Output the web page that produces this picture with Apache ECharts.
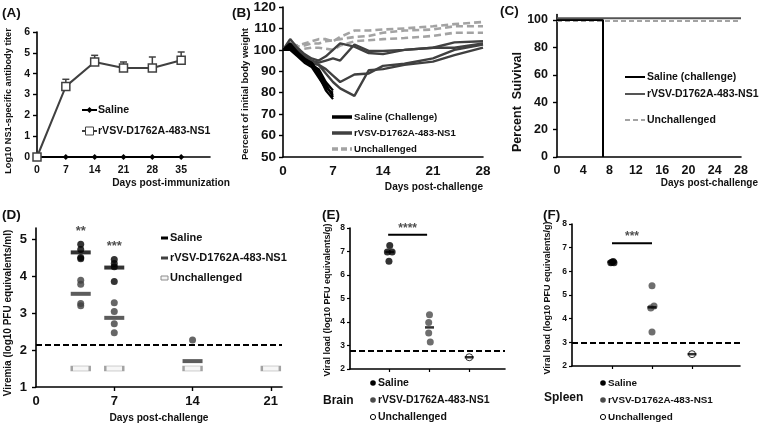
<!DOCTYPE html>
<html><head><meta charset="utf-8">
<script src="https://cdn.jsdelivr.net/npm/echarts@6/dist/echarts.min.js"></script>
<style>html,body{margin:0;padding:0;background:#fff}#c{width:760px;height:425px}</style>
</head><body><div id="c"></div>
<script>
// ---------- Panel A: antibody titer ----------
const aDays = [0, 7, 14, 21, 28, 35];
const aSaline = [0, 0, 0, 0, 0, 0];
const aVaccine = [0, 3.39, 4.56, 4.27, 4.27, 4.64];
const aVaccineUpper = [0, 3.73, 4.88, 4.56, 4.8, 5.04];
const aXLabels = [0, 7, 14, 21, 28, 35];

// ---------- Panel B: body weight ----------
const bSalineDays = [0, 1, 2, 3, 4, 5, 6, 7];
const bSaline1 = [100, 101, 98, 95, 93, 88, 81, 77];
const bSaline2 = [100, 102, 99, 96, 94, 90, 83, 79];
const bSaline3 = [100, 100, 97, 94, 92, 87, 82, 80];
const bSaline4 = [100, 103, 99, 95, 93, 91, 85, 81];
const bSaline5 = [100, 101, 98, 95, 94, 89, 84, 78];
const bDays = [0, 1, 2, 3, 4, 5, 6, 7, 8, 10, 12, 14, 17, 21, 24, 28];
const bVaccine1 = [100, 105, 101, 98, 96, 95, 97, 100, 103, 101.5, 98.5, 98, 100, 101, 103.5, 104];
const bVaccine2 = [100, 103, 100, 97, 95, 94, 95, 96, 95, 102.5, 99.5, 99.5, 100, 101, 101, 103];
const bVaccine3 = [100, 102, 99, 96, 94, 93, 91, 88, 85, 88.5, 89, 92.5, 93.5, 96, 100, 102.5];
const bVaccine4 = [100, 101, 98, 95, 94, 93, 89, 85, 82, 78.5, 90.5, 91, 93, 94.5, 97.5, 101];
const bUnch1 = [100, 103, 102, 103, 104, 105, 105, 104, 106, 109, 109, 109.5, 110, 111, 112, 113];
const bUnch2 = [100, 102, 101.5, 102, 103, 103, 104, 104.5, 105, 106, 106.5, 108, 109, 109.5, 111, 111];
const bUnch3 = [100, 101, 100, 100.5, 101, 101, 100.5, 100, 102, 104, 104.5, 105, 105.5, 106.5, 108, 108];

// ---------- Panel C: survival ----------
const cSalineDays = [0, 7, 7];
const cSaline = [100, 100, 0];
const cVaccineDays = [0, 28];
const cVaccine = [101.2, 101.2];
const cUnchDays = [0, 28];
const cUnch = [99.2, 99.2];
const cYLabels = [0, 20, 40, 60, 80, 100];

// ---------- Panel D: viremia ----------
const dSalineDots = [[4, 4.86], [4, 4.72], [4, 4.5], [4, 4.47], [7, 4.45], [7, 4.34], [7, 4.25], [7, 3.85]];
const dSalineMean = [[4, 4.64], [7, 4.23]];
const dVaccineDots = [[4, 3.89], [4, 3.78], [4, 3.26], [4, 3.2], [7, 3.28], [7, 3.04], [7, 2.71], [7, 2.47], [14, 2.27]];
const dVaccineMean = [[4, 3.52], [7, 2.87], [14, 1.70]];
const dUnch = [[4, 1.5], [7, 1.5], [14, 1.5], [21, 1.5]];
const dLimit = 2.14;
const dStars = [[4, 5.2, '**'], [7, 4.79, '***']];
const dXLabels = [0, 7, 14, 21];
const dYLabels = [1, 2, 3, 4, 5];

// ---------- Panel E: brain ----------
const eSaline = [[1, 7.26], [0.94, 6.98], [1.06, 6.98], [0.98, 6.58]];
const eVaccine = [[2, 4.31], [1.98, 3.98], [1.98, 3.53], [2.02, 3.15]];
const eUnch = [[3, 2.5]];
const eMeans = [[1, 6.98], [2, 3.77], [3, 2.5]];
const eLimit = 2.79;
const eSigX = [0.96, 1.94];
const eSigY = 7.71;
const eSigText = '****';

// ---------- Panel F: spleen ----------
const fSaline = [[0.97, 6.36], [1.03, 6.42], [1, 6.38], [1.05, 6.36]];
const fVaccine = [[2, 5.39], [2.05, 4.53], [1.97, 4.45], [2, 3.44]];
const fUnch = [[3, 2.5]];
const fMeans = [[1, 6.4], [2, 4.48], [3, 2.5]];
const fLimit = 3.0;
const fSigX = [1, 2];
const fSigY = 7.19;
const fSigText = '***';

// ================= drawing =================
const FONT = '"Liberation Sans", Arial, sans-serif';
const BLACK = '#000', DARK = '#404040', LIGHT = '#a3a3a3';
const zip = (xs, ys) => xs.map((x, i) => [x, ys[i]]);

function xAx(gi, min, max, o) {
  return Object.assign({
    type: 'value', gridIndex: gi, min: min, max: max,
    axisLine: { show: true, onZero: false, lineStyle: { color: BLACK, width: 1.6 } },
    splitLine: { show: false },
    axisTick: { show: false }
  }, o);
}
function yAx(gi, min, max, o) {
  return Object.assign({
    type: 'value', gridIndex: gi, min: min, max: max,
    axisLine: { show: true, onZero: false, lineStyle: { color: BLACK, width: 1.6 } },
    splitLine: { show: false },
    axisTick: { show: true, length: 4, lineStyle: { color: BLACK, width: 1.4 } }
  }, o);
}
const lbl = (size, extra) => Object.assign({ color: '#111', fontFamily: FONT, fontWeight: 'bold', fontSize: size, margin: 7 }, extra || {});

const grids = [
  { left: 37, top: 32, width: 173, height: 125 },
  { left: 283, top: 5, width: 200, height: 152 },
  { left: 557, top: 14.5, width: 184, height: 142.5 },
  { left: 36, top: 228, width: 246, height: 159 },
  { left: 350, top: 228, width: 155, height: 141 },
  { left: 572, top: 224, width: 168, height: 142 }
];

const xAxes = [
  xAx(0, 0, 42, { axisLabel: lbl(10.5, { customValues: aXLabels, margin: 8 }) }),
  xAx(1, 0, 28, { interval: 7, axisLabel: lbl(13.5, { margin: 7 }) }),
  xAx(2, 0, 28, { interval: 4, axisLabel: lbl(12.5, { margin: 7 }) }),
  xAx(3, 0, 22, { axisLabel: lbl(13, { customValues: dXLabels, margin: 8 }),
    axisTick: { show: true, length: 4, customValues: [7, 14, 21], lineStyle: { color: BLACK, width: 1.4 } } }),
  xAx(4, 0, 3.9, { axisLabel: { show: false },
    axisTick: { show: true, length: 3, customValues: [1, 2, 3], lineStyle: { color: BLACK, width: 1.2 } } }),
  xAx(5, 0, 4.2, { axisLabel: { show: false },
    axisTick: { show: true, length: 3, customValues: [1, 2, 3], lineStyle: { color: BLACK, width: 1.2 } } })
];
const yAxes = [
  yAx(0, 0, 6, { interval: 1, axisLabel: lbl(10.5, { margin: 7 }) }),
  yAx(1, 50, 120, { interval: 10, axisLabel: lbl(13.5, { margin: 7 }) }),
  yAx(2, 0, 104, { axisLabel: lbl(12.5, { customValues: cYLabels, margin: 9 }),
    axisTick: { show: true, length: 4, customValues: cYLabels, lineStyle: { color: BLACK, width: 1.4 } } }),
  yAx(3, 1, 5.3, { axisLabel: lbl(13, { customValues: dYLabels, margin: 9 }),
    axisTick: { show: true, length: 4, customValues: dYLabels, lineStyle: { color: BLACK, width: 1.4 } } }),
  yAx(4, 2, 8, { interval: 1, axisLabel: lbl(8.5, { margin: 5 }), axisTick: { show: true, length: 3, lineStyle: { color: BLACK, width: 1.2 } } }),
  yAx(5, 2, 8, { interval: 1, axisLabel: lbl(8.5, { margin: 5 }), axisTick: { show: true, length: 3, lineStyle: { color: BLACK, width: 1.2 } } })
];

const series = [];
const base = { animation: false, silent: true, emphasis: { disabled: true } };
function line(gi, data, color, width, o) {
  series.push(Object.assign({}, base, {
    type: 'line', xAxisIndex: gi, yAxisIndex: gi, data: data, symbol: 'none',
    lineStyle: { color: color, width: width }
  }, o || {}));
}
function scat(gi, data, o) {
  series.push(Object.assign({}, base, { type: 'scatter', xAxisIndex: gi, yAxisIndex: gi, data: data }, o));
}

// Panel A
line(0, zip(aDays, aSaline), BLACK, 2, { symbol: 'diamond', symbolSize: 6, showSymbol: true, itemStyle: { color: BLACK }, z: 3 });
series.push(Object.assign({}, base, {
  type: 'custom', xAxisIndex: 0, yAxisIndex: 0, z: 2,
  data: aDays.map((d, i) => [d, aVaccine[i], aVaccineUpper[i]]).filter(r => r[2] > r[1]),
  encode: { x: 0, y: [1, 2] },
  renderItem: (p, api) => {
    const p0 = api.coord([api.value(0), api.value(1)]);
    const p1 = api.coord([api.value(0), api.value(2)]);
    const st = { stroke: DARK, lineWidth: 1.5 };
    return { type: 'group', children: [
      { type: 'line', shape: { x1: p0[0], y1: p0[1], x2: p1[0], y2: p1[1] }, style: st },
      { type: 'line', shape: { x1: p1[0] - 3.5, y1: p1[1], x2: p1[0] + 3.5, y2: p1[1] }, style: st }
    ] };
  }
}));
line(0, zip(aDays, aVaccine), DARK, 2, { symbol: 'rect', symbolSize: 8, showSymbol: true,
  itemStyle: { color: '#fff', borderColor: DARK, borderWidth: 1.5 }, z: 4 });

// Panel B
[bUnch1, bUnch2, bUnch3].forEach(v => line(1, zip(bDays, v), LIGHT, 2.6, { lineStyle: { color: LIGHT, width: 2.6, type: [7, 4] } }));
[bVaccine1, bVaccine2, bVaccine3, bVaccine4].forEach(v => line(1, zip(bDays, v), DARK, 2.4));
[bSaline1, bSaline2, bSaline3, bSaline4, bSaline5].forEach(v => line(1, zip(bSalineDays, v), BLACK, 2.2));

// Panel C
line(2, zip(cUnchDays, cUnch), LIGHT, 2, { lineStyle: { color: LIGHT, width: 2, type: [5, 3] } });
line(2, zip(cSalineDays, cSaline), BLACK, 2);
line(2, zip(cVaccineDays, cVaccine), '#555', 2);

// Panel D
scat(3, dUnch, { symbol: 'rect', symbolSize: [18, 5], itemStyle: { color: '#f4f4f4', borderColor: '#8c8c8c', borderWidth: 1.3 },
  markLine: { silent: true, symbol: 'none', animation: false, label: { show: false },
    lineStyle: { color: BLACK, width: 2, type: [6, 3] }, data: [{ yAxis: dLimit }] } });
scat(3, dVaccineDots, { symbol: 'circle', symbolSize: 7, itemStyle: { color: DARK } });
scat(3, dSalineDots, { symbol: 'circle', symbolSize: 7, itemStyle: { color: BLACK } });
scat(3, dVaccineMean, { symbol: 'rect', symbolSize: [20, 4], itemStyle: { color: '#333' } });
scat(3, dSalineMean, { symbol: 'rect', symbolSize: [20, 4], itemStyle: { color: BLACK } });
scat(3, dStars, { symbolSize: 0, label: { show: true, position: 'inside', formatter: p => p.data[2],
  color: '#222', fontFamily: FONT, fontWeight: 'bold', fontSize: 13 } });

// Panels E and F
function organ(gi, sal, vac, unch, means, limit, sigX, sigY, sigText) {
  line(gi, sigX.map(x => [x, sigY]), BLACK, 2);
  scat(gi, sal, { symbol: 'circle', symbolSize: 7, itemStyle: { color: BLACK },
    markLine: { silent: true, symbol: 'none', animation: false, label: { show: false },
      lineStyle: { color: BLACK, width: 2, type: [6, 3] }, data: [{ yAxis: limit }] } });
  scat(gi, vac, { symbol: 'circle', symbolSize: 7, itemStyle: { color: '#4a4a4a' } });
  scat(gi, unch, { symbol: 'circle', symbolSize: 7, itemStyle: { color: '#fff', borderColor: BLACK, borderWidth: 1 } });
  scat(gi, means, { symbol: 'rect', symbolSize: [9, 2.5], itemStyle: { color: BLACK }, z: 5 });
  scat(gi, [[(sigX[0] + sigX[1]) / 2, sigY, sigText]], { symbolSize: 0,
    label: { show: true, position: 'top', distance: 0, formatter: p => p.data[2],
      color: '#222', fontFamily: FONT, fontWeight: 'bold', fontSize: 12 } });
}
organ(4, eSaline, eVaccine, eUnch, eMeans, eLimit, eSigX, eSigY, eSigText);
organ(5, fSaline, fVaccine, fUnch, fMeans, fLimit, fSigX, fSigY, fSigText);

// ---------- text & legend graphics ----------
const g = [];
function T(x, y, s, size, o) {
  g.push(Object.assign({ type: 'text', x: x, y: y, silent: true,
    style: Object.assign({ text: s, fill: '#111', fontFamily: FONT, fontWeight: 'bold', fontSize: size,
      align: 'left', verticalAlign: 'middle' }, (o && o.style) || {}) }, o && o.rot != null ? { rotation: o.rot } : {}));
}
const R = Math.PI / 2;
function L(x1, y1, x2, y2, color, w, dash) {
  g.push({ type: 'line', silent: true, shape: { x1, y1, x2, y2 }, style: { stroke: color, lineWidth: w, lineDash: dash || null } });
}
function C(cx, cy, r, fill, stroke) {
  g.push({ type: 'circle', silent: true, shape: { cx, cy, r }, style: { fill: fill, stroke: stroke || null, lineWidth: 1 } });
}
function Rc(x, y, w, h, fill, stroke) {
  g.push({ type: 'rect', silent: true, shape: { x, y, width: w, height: h }, style: { fill: fill, stroke: stroke || null, lineWidth: 1 } });
}

// panel letters
T(2, 13, '(A)', 13.5); T(232, 13, '(B)', 13.5); T(500, 11, '(C)', 13.5);
T(2, 215, '(D)', 13.5); T(322, 215, '(E)', 13.5); T(543, 215, '(F)', 13.5);

// axis titles
T(8, 101, 'Log10 NS1-specific antibody titer', 9.2, { rot: R, style: { align: 'center' } });
T(230, 183, 'Days post-immunization', 10.2, { style: { align: 'right' } });
T(245, 94, 'Percent of initial body weight', 9.5, { rot: R, style: { align: 'center' } });
T(483, 187, 'Days post-challenge', 10.1, { style: { align: 'right' } });
T(518, 102, 'Percent  Suivival', 12.5, { rot: R, style: { align: 'center' } });
T(758, 183, 'Days post-challenge', 10, { style: { align: 'right' } });
T(8, 313, 'Viremia (log10 PFU equivalents/ml)', 10, { rot: R, style: { align: 'center' } });
T(159, 418, 'Days post-challenge', 10.2, { style: { align: 'center' } });
T(328, 300, 'Viral load (log10 PFU equivalents/g)', 9, { rot: R, style: { align: 'center' } });
T(548, 298, 'Viral load (log10 PFU equivalents/g)', 9, { rot: R, style: { align: 'center' } });
T(323, 401, 'Brain', 12); T(544, 398, 'Spleen', 12);

// legend A
L(82, 110, 97, 110, BLACK, 2);
g.push({ type: 'polygon', silent: true, shape: { points: [[89.5, 107], [92.5, 110], [89.5, 113], [86.5, 110]] }, style: { fill: BLACK } });
T(98, 110, 'Saline', 10.6);
L(82, 131, 97, 131, DARK, 2); Rc(85.5, 127, 8, 8, '#fff', DARK);
T(98, 131, 'rVSV-D1762A-483-NS1', 10.6);
// legend B
L(332, 117, 352, 117, BLACK, 3.5); T(354, 117, 'Saline (Challenge)', 9.6);
L(332, 133, 352, 133, DARK, 3.5); T(354, 133, 'rVSV-D1762A-483-NS1', 9.6);
L(332, 149, 352, 149, LIGHT, 3.5, [6, 3]); T(354, 149, 'Unchallenged', 9.6);
// legend C
L(625, 77, 645, 77, BLACK, 2); T(647, 77, 'Saline (challenge)', 10.5);
L(625, 94, 645, 94, '#555', 2); T(647, 94, 'rVSV-D1762A-483-NS1', 10.5);
L(625, 120, 645, 120, LIGHT, 2, [5, 3]); T(647, 120, 'Unchallenged', 10.5);
// legend D
Rc(161, 236.5, 7, 3, BLACK); T(170, 238, 'Saline', 11);
Rc(161, 256.5, 7, 3, DARK); T(170, 258, 'rVSV-D1762A-483-NS1', 11);
Rc(161, 276, 7, 4, '#f4f4f4', '#8c8c8c'); T(170, 278, 'Unchallenged', 11);
// legend E
C(373, 383, 2.8, BLACK); T(378, 383, 'Saline', 10.5);
C(373, 400, 2.8, '#4a4a4a'); T(378, 400, 'rVSV-D1762A-483-NS1', 10.5);
C(373, 417, 2.6, '#fff', BLACK); T(378, 417, 'Unchallenged', 10.5);
// legend F
C(603, 383, 2.8, BLACK); T(608, 383, 'Saline', 9.9);
C(603, 400, 2.8, '#4a4a4a'); T(608, 400, 'rVSV-D1762A-483-NS1', 9.9);
C(603, 417, 2.6, '#fff', BLACK); T(608, 417, 'Unchallenged', 9.9);

const chart = echarts.init(document.getElementById('c'), null, { renderer: 'canvas', width: 760, height: 425 });
chart.setOption({
  animation: false,
  backgroundColor: '#fff',
  grid: grids,
  xAxis: xAxes,
  yAxis: yAxes,
  series: series,
  graphic: g
});
</script>
</body></html>
